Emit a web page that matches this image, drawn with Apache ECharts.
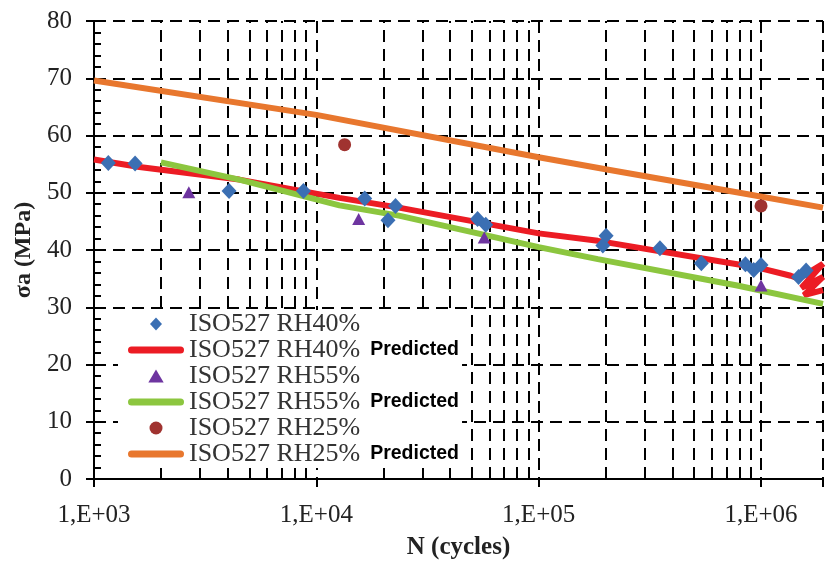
<!DOCTYPE html>
<html>
<head>
<meta charset="utf-8">
<script src="https://cdn.jsdelivr.net/npm/echarts@6/dist/echarts.min.js"></script>
<style>
	html, body { margin: 0; padding: 0; background: #fff; }
	#chart { width: 826px; height: 565px; }
</style>
</head>
<body>
<div id="chart"></div>
<script>
	// measured points (N cycles, stress amplitude MPa)
	var rh40N = [1160, 1530, 4050, 8750, 16500, 21000, 22700, 53100, 57800, 194400, 201000, 351000, 539000, 851000, 927000, 1000000, 1475000, 1595000];
	var rh40S = [55.2, 55.1, 50.3, 50.3, 49.0, 45.2, 47.7, 45.4, 44.4, 40.8, 42.5, 40.3, 37.7, 37.5, 36.5, 37.4, 35.3, 36.4];
	var rh55N = [2670, 15500, 56900, 1000000];
	var rh55S = [50.1, 45.4, 42.2, 33.8];
	var rh25N = [13400, 1000000];
	var rh25S = [58.4, 47.7];

	// predicted curves (RH40 ends in a scribble)
	var pred40N = [1000, 1600, 4500, 12700, 23500, 100000, 184500, 1000000, 1360000, 1480000, 1900000, 1520000, 1900000, 1560000, 1900000];
	var pred40S = [55.8, 54.5, 52.3, 49.1, 47.4, 42.9, 41.6, 36.8, 35.5, 35.0, 37.6, 33.4, 35.3, 32.1, 33.0];
	var pred55N = [2000, 4500, 12700, 23500, 100000, 184500, 781000, 1900000];
	var pred55S = [55.3, 52.3, 47.8, 46.0, 40.5, 38.4, 33.8, 30.6];
	var pred25N = [1000, 10000, 100000, 200000, 800000, 1900000];
	var pred25S = [69.6, 63.6, 56.2, 54.1, 50.0, 47.4];

	// log grid: decades and the 2..9 sub lines
	var decades = [1000, 10000, 100000, 1000000];
	var subMult = [2, 3, 4, 5, 6, 7, 8, 9];

	var serif = "'Liberation Serif', 'Times New Roman', serif";

	function pairs(xs, ys) {
		return xs.map(function (x, i) { return [x, ys[i]]; });
	}

	var subLines = [];
	decades.forEach(function (d) {
		subMult.forEach(function (m) {
			if (d * m < 1900000) subLines.push({ xAxis: d * m });
		});
	});

	var icons = {
		diamond: 'path://M6,0L12,6.5L6,13L0,6.5Z',
		triangle: 'path://M6.5,0L13,11L0,11Z',
		circle: 'path://M6,0A6,6,0,1,1,6,12A6,6,0,1,1,6,0Z',
		bar: 'path://M3.5,0H52.5A3.5,3.5,0,0,1,52.5,7H3.5A3.5,3.5,0,0,1,3.5,0Z'
	};

	var dash = { color: '#000', type: [12, 7], width: 2 };

	var myChart = echarts.init(document.getElementById('chart'));
	var option = {
		backgroundColor: '#fff',
		animation: false,
		grid: { left: 94, right: 0, top: 21, bottom: 83 },
		legend: {
			orient: 'vertical',
			left: 118,
			top: 310,
			padding: [1, 3, 1, 10],
			itemGap: 0,
			itemWidth: 56,
			itemHeight: 13,
			backgroundColor: '#fff',
			itemStyle: { borderWidth: 0 },
			data: [
				{ name: 'ISO527 RH40%', icon: icons.diamond },
				{ name: 'ISO527 RH40% Predicted', icon: icons.bar },
				{ name: 'ISO527 RH55%', icon: icons.triangle },
				{ name: 'ISO527 RH55% Predicted', icon: icons.bar },
				{ name: 'ISO527 RH25%', icon: icons.circle },
				{ name: 'ISO527 RH25% Predicted', icon: icons.bar }
			],
			formatter: function (name) {
				if (name.indexOf(' Predicted') > 0) {
					return '{a|' + name.replace(' Predicted', '') + '}{b|Predicted}';
				}
				return '{a|' + name + '}';
			},
			textStyle: {
				rich: {
					a: { fontFamily: serif, fontSize: 26, lineHeight: 20, color: '#333' },
					b: { fontFamily: "'Liberation Sans', Arial, sans-serif", fontWeight: 'bold', fontSize: 19.5, lineHeight: 20, color: '#000', padding: [0, 0, 0, 10] }
				}
			}
		},
		xAxis: [{
			type: 'log',
			logBase: 10,
			min: 1000,
			max: 1900000,
			position: 'bottom',
			name: 'N (cycles)',
			nameLocation: 'middle',
			nameGap: 56,
			nameTextStyle: { fontFamily: serif, fontWeight: 'bold', fontSize: 25, color: '#222' },
			axisLine: { show: true, onZero: false, lineStyle: { color: '#000', width: 2 } },
			axisTick: { show: true, length: 8, lineStyle: { color: '#000', width: 2 } },
			axisLabel: {
				fontFamily: serif, fontSize: 25, color: '#222', margin: 24,
				formatter: function (v) {
					var e = Math.log10(v);
					if (Math.abs(e - Math.round(e)) > 1e-6) return '';
					return '1,E+0' + Math.round(e);
				}
			},
			splitLine: { show: true, lineStyle: dash }
		}, {
			type: 'log',
			logBase: 10,
			min: 1000,
			max: 1900000,
			position: 'top',
			axisLine: { show: true, lineStyle: { color: '#000', width: 1.5 } },
			axisTick: { show: false },
			axisLabel: { show: false },
			splitLine: { show: false }
		}],
		yAxis: [{
			type: 'value',
			min: 0,
			max: 80,
			interval: 10,
			position: 'left',
			name: 'σa (MPa)',
			nameLocation: 'middle',
			nameRotate: 90,
			nameGap: 58,
			nameTextStyle: { fontFamily: serif, fontWeight: 'bold', fontSize: 24, color: '#222' },
			axisLine: { show: true, lineStyle: { color: '#000', width: 2 } },
			axisTick: { show: true, length: 8, lineStyle: { color: '#000', width: 2 } },
			axisLabel: { fontFamily: serif, fontSize: 25, color: '#222', margin: 22 },
			splitLine: { show: true, lineStyle: dash }
		}, {
			type: 'value',
			min: 0,
			max: 80,
			interval: 10,
			position: 'left',
			axisLine: { show: false },
			axisLabel: { show: false },
			splitLine: { show: false },
			axisTick: { show: true, inside: true, length: 7, lineStyle: { color: '#000', width: 2 } },
			minorTick: { show: true, splitNumber: 5, length: 7, lineStyle: { color: '#000', width: 2 } }
		}],
		series: [{
			name: 'ISO527 RH40%',
			type: 'scatter',
			symbol: 'diamond',
			symbolSize: [15, 16],
			itemStyle: { color: '#3b6fb3', opacity: 1 },
			data: pairs(rh40N, rh40S),
			z: 4,
			markLine: {
				silent: true,
				z: 1,
				symbol: 'none',
				label: { show: false },
				lineStyle: dash,
				data: subLines
			}
		}, {
			name: 'ISO527 RH40% Predicted',
			type: 'line',
			symbol: 'none',
			lineStyle: { color: '#ec1c24', width: 6 },
			itemStyle: { color: '#ec1c24' },
			data: pairs(pred40N, pred40S),
			z: 3
		}, {
			name: 'ISO527 RH55%',
			type: 'scatter',
			symbol: 'triangle',
			symbolSize: [13, 12],
			itemStyle: { color: '#6e35a0', opacity: 1 },
			data: pairs(rh55N, rh55S),
			z: 4
		}, {
			name: 'ISO527 RH55% Predicted',
			type: 'line',
			symbol: 'none',
			lineStyle: { color: '#8cc63f', width: 6 },
			itemStyle: { color: '#8cc63f' },
			data: pairs(pred55N, pred55S),
			z: 3
		}, {
			name: 'ISO527 RH25%',
			type: 'scatter',
			symbol: 'circle',
			symbolSize: 13,
			itemStyle: { color: '#a03330', opacity: 1 },
			data: pairs(rh25N, rh25S),
			z: 4
		}, {
			name: 'ISO527 RH25% Predicted',
			type: 'line',
			symbol: 'none',
			lineStyle: { color: '#e8772e', width: 6 },
			itemStyle: { color: '#e8772e' },
			data: pairs(pred25N, pred25S),
			z: 3
		}]
	};
	myChart.setOption(option);
</script>
</body>
</html>
